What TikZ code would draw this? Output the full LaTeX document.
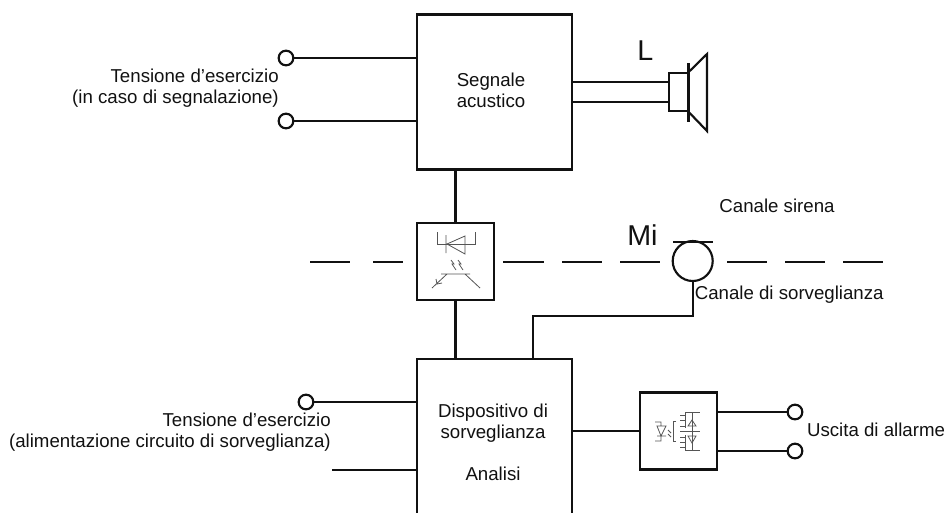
\documentclass[tikz,border=0pt]{standalone}
\usepackage{fontspec}
\setmainfont{Liberation Sans}
\definecolor{Ink}{HTML}{111111}
\definecolor{Symbol}{HTML}{555555}
\tikzset{
  wire/.style={Ink,line width=1.6pt},
  blockbox/.style={draw=Ink,line width=1.6pt,fill=white,inner sep=0pt,rectangle},
  terminal/.style={draw=Ink,line width=1.6pt,fill=white,circle,inner sep=0pt,minimum size=11pt},
  caption/.style={text=Ink,align=center,inner sep=0pt,font=\fontsize{14}{15.75}\selectfont},
  bigletter/.style={text=Ink,inner sep=0pt,anchor=base west,font=\fontsize{21.5}{24}\selectfont},
  icon/.style={Symbol,line width=0.6pt}
}
\begin{document}
\begin{tikzpicture}[x=0.75pt,y=-0.75pt]
\useasboundingbox (0,0) rectangle (945,512);
\clip (0,0) rectangle (945,512);
\node[blockbox,minimum width=116.25pt,minimum height=116.25pt] (sig) at (494.5,92) {};
\node[blockbox,minimum width=57.75pt,minimum height=57.75pt] (opto) at (455.5,261.5) {};
\node[blockbox,minimum width=116.25pt,minimum height=120pt] (dev) at (494.5,438.7) {};
\node[blockbox,minimum width=57.75pt,minimum height=57.75pt] (relay) at (678.5,431) {};
\node[blockbox,minimum width=14.6pt,minimum height=29pt] (spk) at (678.3,92) {};
\node[circle,draw=Ink,line width=1.6pt,inner sep=0pt,minimum size=30pt] (mic) at (692.7,261) {};
\node[terminal] (t1) at (286,58) {};
\node[terminal] (t2) at (286,121) {};
\node[terminal] (t3) at (306,402) {};
\node[terminal] (t4) at (795,412) {};
\node[terminal] (t5) at (795,451) {};
\coordinate (stub) at (332,470);
\coordinate (bend) at (533,316);
\coordinate (spka) at (668.5,82);
\coordinate (spkb) at (668.5,102);
\draw[wire] (t1)--(t1-|sig.west);
\draw[wire] (t2)--(t2-|sig.west);
\draw[wire] (t3)--(t3-|dev.west);
\draw[wire] (stub)--(stub-|dev.west);
\draw[wire] (t4)--(t4-|relay.east);
\draw[wire] (t5)--(t5-|relay.east);
\draw[wire] (spka-|sig.east)--(spka);
\draw[wire] (spkb-|sig.east)--(spkb);
\draw[wire] (opto.north|-sig.south)--(opto.north);
\draw[wire] (opto.south)--(opto.south|-dev.north);
\draw[wire] (mic.south)--(mic|-bend)--(bend)--(bend|-dev.north);
\draw[wire] (dev.east|-relay.center)--(relay.west);
\draw[wire] (688.5,63)--(688.5,122);
\draw[wire,line join=miter] (spk.north east)--(707,54)--(707,131)--(spk.south east);
\draw[wire] (673,242)--(713,242);
\foreach \xa/\xb in {310/350,373/403,503/544,562/602,620/660,727/767,785/825,843/883}
  \draw[wire] (\xa,262)--(\xb,262);
\draw[icon] (437,232)--(437,244)--(465,244) (465,244)--(475,244)--(475,232);
\draw[icon] (446,235)--(446,253) (447,244)--(465,236)--(465,254)--cycle;
\draw[icon] (451,260)--(454,264)--(452,264)--(456,270) (458,260)--(461,264)--(459,264)--(463,270);
\draw[icon] (441,274)--(470,274) (447,274)--(432,288) (465,274)--(480,288) (436,279)--(437,284)--(442,283);
\draw[icon] (655,422)--(661,422)--(661,426) (657,426)--(666,426)--(661,436)--cycle (657,436)--(666,436) (661,436)--(661,441)--(655,441);
\draw[icon] (668,430)--(671,433) (668,434)--(671,437);
\draw[icon] (676,421)--(673,421)--(673,441)--(676,441);
\draw[icon] (680,415)--(685,415) (680,420)--(685,420) (680,426)--(685,426) (680,437)--(685,437) (680,442)--(685,442) (680,447)--(685,447);
\draw[icon] (685,412)--(700,412) (685,412)--(685,428) (685,435)--(685,450)--(700,450) (680,431)--(700,431) (692,412)--(692,450);
\draw[icon] (688,426)--(696,426)--(692,420)--cycle (688,436)--(696,436)--(692,443)--cycle;
\node[caption,align=right,anchor=east] (lbl1) at (279,88) {Tensione d’esercizio\\(in caso di segnalazione)};
\node[caption,align=right,anchor=east] (lbl2) at (331,432) {Tensione d’esercizio\\(alimentazione circuito di sorveglianza)};
\node[caption] (lblsig) at (491,90) {Segnale\\acustico};
\node[caption] (lbldev) at (493,442) {Dispositivo di\\sorveglianza\\[\baselineskip]Analisi};
\node[caption] (lblsir) at (777,206) {Canale sirena};
\node[caption,anchor=west] (lblsorv) at (694.5,295) {Canale di sorveglianza};
\node[caption] (lblusc) at (876,430) {Uscita di allarme};
\node[bigletter] (lblL) at (637,60.7) {L};
\node[bigletter] (lblM) at (627,245) {Mi};
\end{tikzpicture}
\end{document}
